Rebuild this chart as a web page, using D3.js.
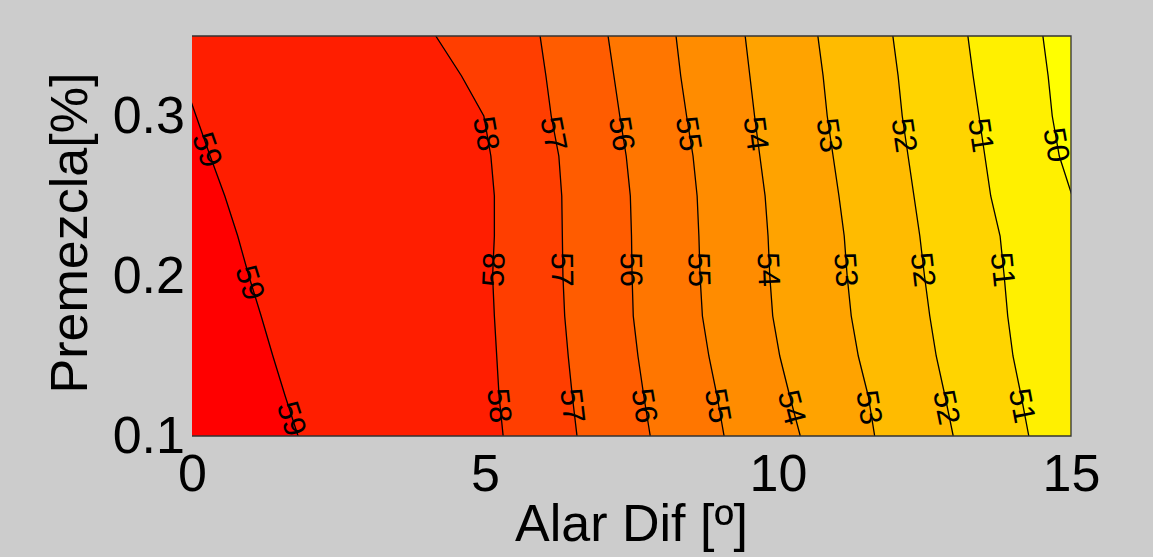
<!DOCTYPE html>
<html><head><meta charset="utf-8">
<script src="https://cdn.jsdelivr.net/npm/d3@7"></script>
<style>
body{margin:0;background:#cccccc;}
svg{display:block;}
text{font-family:Arial,"Liberation Sans",Helvetica,sans-serif;fill:#000;}
</style>
</head><body>
<svg id="chart" width="1153" height="557"></svg>
<script>
// ---- data ----
const xTicks = [0, 5, 10, 15];
const yTicks = [0.1, 0.2, 0.3];
const xLabel = "Alar Dif [º]";
const yLabel = "Premezcla[%]";
// y positions (Premezcla) at which contour line positions were read
const rowsY = [0.35, 0.325, 0.30, 0.275, 0.25, 0.225, 0.20, 0.175, 0.15, 0.125, 0.10];
// contour levels
const levels = [59, 58, 57, 56, 55, 54, 53, 52, 51, 50];
// x position (Alar Dif) of each contour line at each row
const line59 = [-0.43, -0.17, 0.07, 0.31, 0.56, 0.78, 0.97, 1.18, 1.38, 1.59, 1.81];
const line58 = [4.16, 4.60, 4.98, 5.10, 5.16, 5.16, 5.13, 5.16, 5.20, 5.24, 5.31];
const line57 = [5.94, 6.04, 6.13, 6.26, 6.31, 6.32, 6.33, 6.36, 6.42, 6.49, 6.57];
const line56 = [7.10, 7.20, 7.30, 7.41, 7.48, 7.50, 7.51, 7.53, 7.61, 7.71, 7.82];
const line55 = [8.26, 8.34, 8.44, 8.55, 8.62, 8.65, 8.67, 8.71, 8.82, 8.96, 9.08];
const line54 = [9.44, 9.52, 9.60, 9.69, 9.78, 9.83, 9.86, 9.91, 10.03, 10.20, 10.38];
const line53 = [10.68, 10.77, 10.84, 10.94, 11.04, 11.13, 11.18, 11.25, 11.37, 11.54, 11.65];
const line52 = [11.96, 12.05, 12.12, 12.22, 12.32, 12.42, 12.50, 12.59, 12.70, 12.85, 12.99];
const line51 = [13.24, 13.33, 13.43, 13.53, 13.63, 13.79, 13.86, 13.92, 14.01, 14.15, 14.28];
const line50 = [14.52, 14.61, 14.68, 14.80, 15.02, 15.2, 15.4, 15.6, 15.8, 16.0, 16.2];
// fill colour of the band just above each level (same order as levels), and below the lowest
const bandAbove = ["#ff0000", "#ff1e00", "#ff3e00", "#ff5c00", "#ff7600", "#ff8c00", "#ffa300", "#ffbb00", "#ffd400", "#fff000"];
const bandBelowLowest = "#ffff00";
// inline contour labels
const labelLevel = [59, 58, 57, 56, 55, 54, 53, 52, 51, 50,
                    59, 58, 57, 56, 55, 54, 53, 52, 51,
                    59, 58, 57, 56, 55, 54, 53, 52, 51];
const labelY = [0.279, 0.289, 0.289, 0.289, 0.289, 0.289, 0.288, 0.288, 0.288, 0.282,
                0.196, 0.204, 0.204, 0.204, 0.204, 0.204, 0.204, 0.204, 0.204,
                0.111, 0.119, 0.119, 0.119, 0.119, 0.118, 0.118, 0.118, 0.119];

// ---- drawing ----
const lineX = {59: line59, 58: line58, 57: line57, 56: line56, 55: line55,
               54: line54, 53: line53, 52: line52, 51: line51, 50: line50};
const svg = d3.select("#chart");
const x = d3.scaleLinear().domain([0, 15]).range([192, 1071]);
const y = d3.scaleLinear().domain([0.1, 0.35]).range([436, 36]);
const [x0, x1] = x.range();
const [yb, yt] = y.range();

svg.append("defs").append("clipPath").attr("id", "plotclip")
  .append("rect").attr("x", x0).attr("y", yt).attr("width", x1 - x0).attr("height", yb - yt);

const plot = svg.append("g").attr("clip-path", "url(#plotclip)");
plot.append("rect").attr("x", x0).attr("y", yt).attr("width", x1 - x0).attr("height", yb - yt)
  .attr("fill", bandBelowLowest);

const pts = lv => rowsY.map((r, i) => ({y: r, x: lineX[lv][i]}));

const area = d3.area().curve(d3.curveLinear)
  .y(d => y(d.y)).x0(x0 - 200).x1(d => x(d.x));
// paint from the lowest level upward
levels.slice().reverse().forEach(lv => {
  const idx = levels.indexOf(lv);
  plot.append("path").datum(pts(lv)).attr("d", area)
    .attr("fill", bandAbove[idx]).attr("stroke", bandAbove[idx]).attr("stroke-width", 0.5);
});

const line = d3.line().curve(d3.curveLinear).x(d => x(d.x)).y(d => y(d.y));
levels.forEach(lv => {
  plot.append("path").datum(pts(lv)).attr("d", line)
    .attr("fill", "none").attr("stroke", "#000").attr("stroke-width", 1.3);
});

// contour labels
labelLevel.forEach((lv, k) => {
  const ly = labelY[k];
  const xs = lineX[lv];
  let i = 0;
  while (i < rowsY.length - 2 && rowsY[i + 1] > ly) i++;
  const t = (rowsY[i] - ly) / (rowsY[i] - rowsY[i + 1]);
  const lx = xs[i] + t * (xs[i + 1] - xs[i]);
  const dxp = x(xs[i + 1]) - x(xs[i]);
  const dyp = y(rowsY[i + 1]) - y(rowsY[i]);
  let ang = Math.atan2(dyp, dxp) * 180 / Math.PI;
  if (ang > 90) ang -= 180;
  if (ang <= -90) ang += 180;
  plot.append("text")
    .attr("transform", `translate(${x(lx)},${y(ly)}) rotate(${ang})`)
    .attr("text-anchor", "middle").attr("dy", "0.36em")
    .style("font-size", "31px")
    .text(lv);
});

// frame (top, right, bottom)
svg.append("path")
  .attr("d", `M${x0},${yt}H${x1}V${yb}H${x0}`)
  .attr("fill", "none").attr("stroke", "#333").attr("stroke-width", 1.3);

// axes
const gx = svg.append("g").attr("transform", `translate(0,${yb})`)
  .call(d3.axisBottom(x).tickValues(xTicks).tickSize(0).tickPadding(18).tickFormat(d3.format("d")));
gx.select(".domain").remove();
gx.selectAll("text").style("font-size", "52px").style("font-family", "Arial, 'Liberation Sans', sans-serif").attr("fill", "#000");

const gy = svg.append("g").attr("transform", `translate(${x0},0)`)
  .call(d3.axisLeft(y).tickValues(yTicks).tickSize(0).tickPadding(7).tickFormat(d3.format(".1f")));
gy.select(".domain").remove();
gy.selectAll("text").style("font-size", "52px").style("font-family", "Arial, 'Liberation Sans', sans-serif").attr("fill", "#000");

svg.append("text").attr("x", (x0 + x1) / 2).attr("y", 541)
  .attr("text-anchor", "middle").style("font-size", "52px").text(xLabel);
svg.append("text").attr("transform", `translate(87,${(yt + yb) / 2 - 3}) rotate(-90)`)
  .attr("text-anchor", "middle").style("font-size", "52px").text(yLabel);
</script>
</body></html>
